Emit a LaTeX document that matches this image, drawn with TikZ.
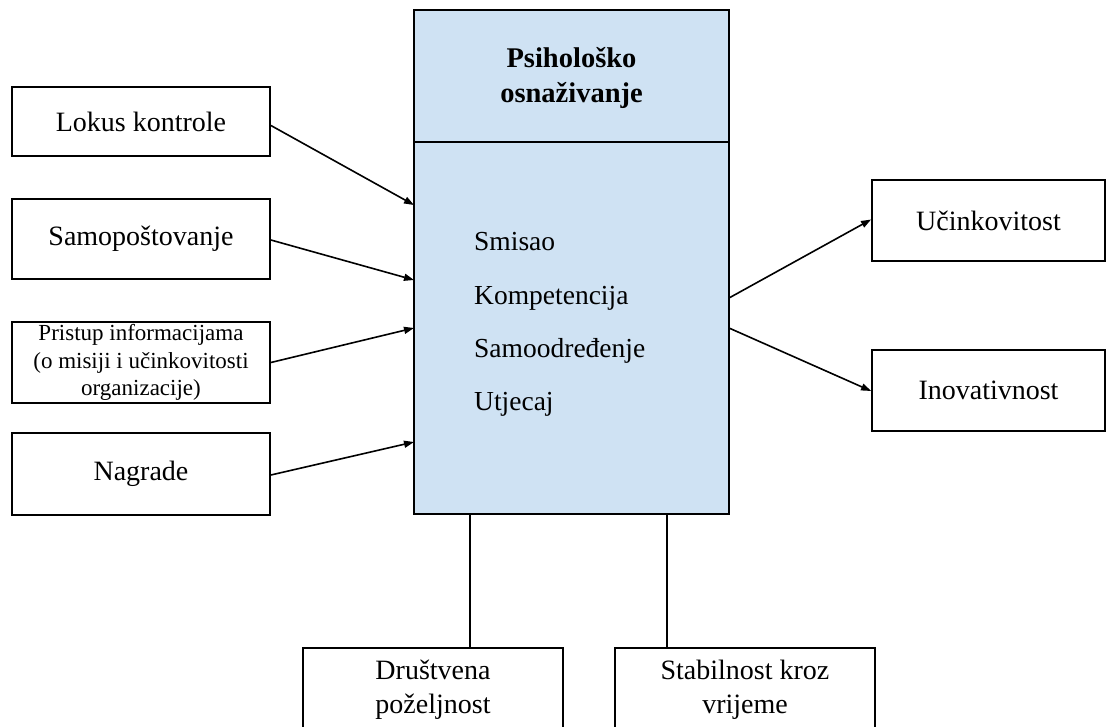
\documentclass[tikz,border=0pt]{standalone}
\usepackage{fontspec}
\setmainfont{Liberation Serif}
\usetikzlibrary{arrows.meta}
\definecolor{boxblue}{HTML}{CFE2F3}
\begin{document}
\begin{tikzpicture}[x=1pt,y=-1pt,
  box/.style={draw=black,line width=1.8pt,fill=white,rectangle,inner sep=0pt,
    font=\fontsize{28}{34}\selectfont,align=center},
  smallbox/.style={box,font=\fontsize{23}{27.5}\selectfont},
  item/.style={anchor=base west,inner sep=0pt,font=\fontsize{27.5}{33}\selectfont},
  conn/.style={line width=1.6pt,-{Triangle[length=10pt,width=7pt]}},
  plain/.style={line width=1.8pt}]
\clip (0,0) rectangle (1107,727);
\fill[white] (0,0) rectangle (1107,727);
% central box
\node[draw=black,line width=1.8pt,fill=boxblue,minimum width=315pt,minimum height=504pt,inner sep=0pt] (main) at (571.5,262) {};
\coordinate (divL) at (414,142);
\coordinate (divR) at (729,142);
\draw[plain] (divL) -- (divR);
\node[align=center,inner sep=0pt,font=\fontsize{28.5}{35}\selectfont\bfseries] (title) at (571.5,78) {Psihološko\\osnaživanje};
\node[item] (s1) at (474,251) {Smisao};
\node[item] (s2) at (474,304) {Kompetencija};
\node[item] (s3) at (474,357) {Samoodređenje};
\node[item] (s4) at (474,410) {Utjecaj};
% left boxes
\node[box,minimum width=258pt,minimum height=69pt] (lokus) at (141,121.5) {Lokus kontrole};
\node[box,minimum width=258pt,minimum height=80pt] (samo) at (141,239) {Samopoštovanje};
\node[smallbox,minimum width=258pt,minimum height=81pt] (pristup) at (141,362.5) {Pristup informacijama\\(o misiji i učinkovitosti\\organizacije)};
\node[box,minimum width=258pt,minimum height=82pt] (nagrade) at (141,474) {Nagrade};
% right boxes
\node[box,minimum width=233pt,minimum height=81pt] (uc) at (988.5,220.5) {Učinkovitost};
\node[box,minimum width=233pt,minimum height=81pt] (ino) at (988.5,390.5) {Inovativnost};
% bottom boxes
\node[box,minimum width=260pt,minimum height=83pt] (drus) at (433,689.5) {Društvena\\poželjnost};
\node[box,minimum width=260pt,minimum height=83pt] (stab) at (745,689.5) {Stabilnost kroz\\vrijeme};
% anchor coordinates on main box
\coordinate (in1) at (414,205);
\coordinate (in2) at (414,280);
\coordinate (in3) at (414,328);
\coordinate (in4) at (414,442);
\coordinate (out1) at (729,298);
\coordinate (out2) at (729,328);
\coordinate (bot1) at (470,514);
\coordinate (bot2) at (667,514);
% connectors
\draw[conn] ([yshift=-4pt]lokus.east) -- (in1);
\draw[conn] ([yshift=-1pt]samo.east) -- (in2);
\draw[conn] (pristup.east) -- (in3);
\draw[conn] ([yshift=-1pt]nagrade.east) -- (in4);
\draw[conn] (out1) -- ([yshift=1pt]uc.west);
\draw[conn] (out2) -- ([yshift=-0.5pt]ino.west);
\draw[plain] (bot1) -- (bot1 |- drus.north);
\draw[plain] (bot2) -- (bot2 |- stab.north);
\end{tikzpicture}
\end{document}
